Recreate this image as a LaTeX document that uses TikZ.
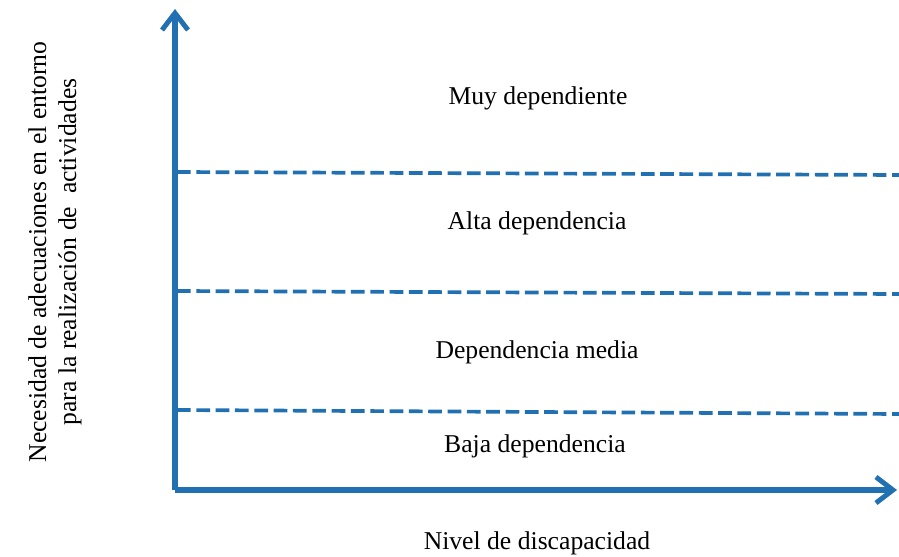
\documentclass[tikz,border=0pt]{standalone}
\usepackage{fontspec}
\setmainfont{Liberation Serif}
\usetikzlibrary{arrows.meta}
\definecolor{axisblue}{RGB}{32,112,178}
\tikzstyle{axis} = [line width=3pt, draw=axisblue, -{Straight Barb[length=3.4mm,width=5.2mm,line width=2.8pt]}]
\tikzstyle{level} = [line width=2.1pt, draw=axisblue, dash pattern=on 7.8pt off 3.2pt]
\tikzstyle{label} = [font=\fontsize{14.6}{17}\selectfont, text=black, align=center]

\begin{document}
\begin{tikzpicture}[x=0.02cm, y=-0.02cm]
    \useasboundingbox (0,0) rectangle (899,557);

    \coordinate (origin) at (175,490);
    \coordinate (ytop) at (175,9);
    \coordinate (xend) at (897,490);
    \coordinate (l1a) at (177,172);
    \coordinate (l1b) at (899,175);
    \coordinate (l2a) at (177,291);
    \coordinate (l2b) at (899,294);
    \coordinate (l3a) at (177,410);
    \coordinate (l3b) at (899,414);

    \node (muy) [label] at (538,98) {Muy dependiente};
    \node (alta) [label] at (537,223) {Alta dependencia};
    \node (media) [label] at (537,352) {Dependencia media};
    \node (baja) [label] at (535,446) {Baja dependencia};
    \node (xlabel) [label] at (537,543) {Nivel de discapacidad};
    \node (ylabel) [label, rotate=90] at (55,252) {Necesidad de adecuaciones en el entorno\\ para la realización de \ actividades};

    \draw [level] (l1a) -- (l1b);
    \draw [level] (l2a) -- (l2b);
    \draw [level] (l3a) -- (l3b);
    \draw [axis] (origin) -- (ytop);
    \draw [axis] (origin) -- (xend);
\end{tikzpicture}
\end{document}
